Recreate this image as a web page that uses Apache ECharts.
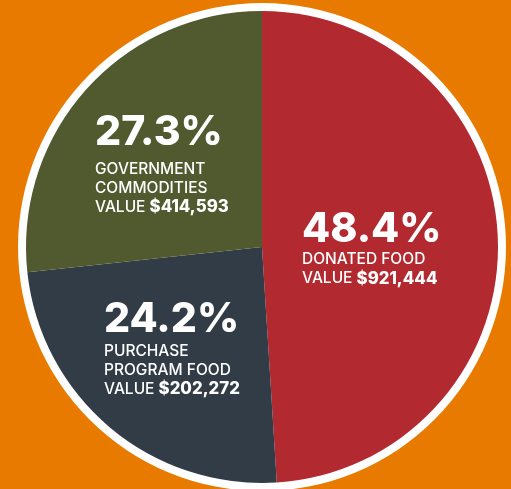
<!DOCTYPE html>
<html><head><meta charset="utf-8">
<script src="https://cdn.jsdelivr.net/npm/echarts@6/dist/echarts.min.js"></script>
<style>html,body{margin:0;padding:0;background:#E87A00;}#c{width:511px;height:489px;}</style>
</head><body><div id="c"></div>
<script>
const categories = ['DONATED FOOD', 'PURCHASE\nPROGRAM FOOD', 'GOVERNMENT\nCOMMODITIES'];
// printed percentages (labels)
const percentLabels = ['48.4%', '24.2%', '27.3%'];
// slice shares as drawn in the picture
const sliceShares = [49.0, 24.3, 26.7];
const dollarValues = ['$921,444', '$202,272', '$414,593'];
const colors = ['#B22930', '#313C47', '#51592F'];

const labelPos = [[302, 209.5], [104, 297.5], [95, 105.5]];
const pctLineHeights = [40.6, 44.4, 54.4];

const chart = echarts.init(document.getElementById('c'));
const data = categories.map((c, i) => ({
  name: c, value: sliceShares[i], itemStyle: {color: colors[i]}
}));
const pctBase = {fontFamily: 'Inter', fontWeight: 800, fontSize: 41, color: '#fff', align: 'left'};
const rich = {
  nm: {fontFamily: 'Inter', fontWeight: 500, fontSize: 15.5, color: '#fff', lineHeight: 19, align: 'left'},
  val: {fontFamily: 'Inter', fontWeight: 800, fontSize: 16.8, color: '#fff', lineHeight: 19, align: 'left'}
};
pctLineHeights.forEach((lh, i) => { rich['pct' + i] = Object.assign({lineHeight: lh}, pctBase); });

chart.setOption({
  backgroundColor: '#E87A00',
  animation: false,
  series: [
    {type: 'pie', silent: true, center: [262, 247], radius: [0, 244],
     data: [{value: 1, itemStyle: {color: '#ffffff'}}], label: {show: false}, labelLine: {show: false}},
    {type: 'pie', center: [262, 247], radius: [0, 236], startAngle: 90, clockwise: true,
     data: data,
     labelLine: {show: false},
     label: {
       show: true, position: 'inside',
       formatter: p => {
         const i = p.dataIndex;
         const nm = categories[i].split('\n').map(s => '{nm|' + s + '}').join('\n');
         return '{pct' + i + '|' + percentLabels[i] + '}\n' + nm + '\n{nm|VALUE }{val|' + dollarValues[i] + '}';
       },
       align: 'left',
       rich: rich
     },
     labelLayout: p => ({x: labelPos[p.dataIndex][0], y: labelPos[p.dataIndex][1], align: 'left', verticalAlign: 'top'})
    }
  ]
});
</script></body></html>
